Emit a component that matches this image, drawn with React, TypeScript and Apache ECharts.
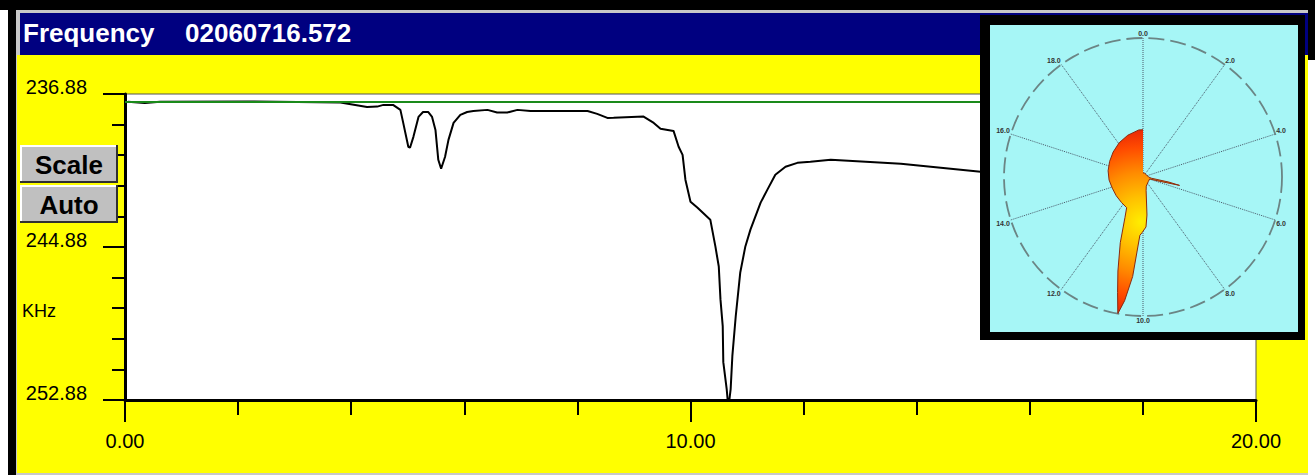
import React, { useEffect, useRef } from "react";
import * as echarts from "echarts";

const Y_MIN = 236.88;
const Y_MAX = 252.88;
const X_MIN = 0;
const X_MAX = 20;

const titleLabel = "Frequency";
const titleValue = "02060716.572";
const unitLabel = "KHz";
const buttonLabels = ["Scale", "Auto"];

// main trace: frequency offset (KHz) vs level
const freqX = [0.05, 0.35, 0.62, 2.21, 3.81, 4.28, 4.46, 4.57, 4.74, 4.87, 4.92, 5.01, 5.04, 5.1, 5.19, 5.27, 5.36, 5.43, 5.49, 5.54, 5.59, 5.66, 5.72, 5.81, 5.93, 6.05, 6.16, 6.41, 6.58, 6.76, 6.94, 7.17, 8.18, 8.35, 8.53, 8.64, 9.17, 9.35, 9.47, 9.7, 9.79, 9.86, 9.91, 10.0, 10.12, 10.35, 10.44, 10.5, 10.53, 10.57, 10.58, 10.64, 10.67, 10.71, 10.74, 10.8, 10.88, 10.97, 11.06, 11.24, 11.36, 11.5, 11.68, 11.89, 12.12, 12.48, 13.72, 15.13, 17.0, 20.0];
const levelY = [237.28, 237.35, 237.28, 237.27, 237.33, 237.56, 237.54, 237.45, 237.45, 237.71, 238.39, 239.64, 239.69, 239.12, 238.08, 237.82, 237.82, 238.08, 238.76, 240.32, 240.79, 240.16, 239.28, 238.39, 237.97, 237.82, 237.77, 237.71, 237.85, 237.85, 237.71, 237.77, 237.77, 237.92, 238.13, 238.12, 238.06, 238.39, 238.7, 238.81, 239.64, 240.06, 241.36, 242.51, 242.82, 243.45, 244.85, 245.9, 247.62, 249.02, 250.9, 252.31, 253.3, 252.31, 250.59, 248.5, 246.21, 244.85, 243.97, 242.56, 241.88, 241.1, 240.68, 240.48, 240.42, 240.32, 240.53, 240.94, 241.4, 242.0];
const referenceLevel = 237.28;

// polar inset
const polarAngle = [0, 1.1, 3.3, 5.0, 5.45, 5.62, 5.72, 5.8, 5.9, 7.2, 8.9, 9.28, 9.67, 9.81, 10.05, 10.17, 10.33, 10.47, 10.58, 10.69, 10.83, 11.06, 11.33, 11.56, 12.22, 13.06, 13.89, 14.72, 15.56, 16.39, 17.22, 18.06, 18.89, 19.72, 20.0];
const polarRadius = [0.03, 0.03, 0.03, 0.04, 0.06, 0.19, 0.27, 0.12, 0.05, 0.05, 0.07, 0.1, 0.275, 0.36, 0.4, 0.42, 0.72, 0.9, 1.0, 0.85, 0.7, 0.5, 0.32, 0.25, 0.24, 0.235, 0.235, 0.245, 0.255, 0.265, 0.28, 0.3, 0.32, 0.34, 0.34];

const FONT = '"Liberation Sans", Arial, sans-serif';

function button(x: number, y: number, w: number, h: number, label: string) {
  return [
    { type: "rect", z: 30, shape: { x, y, width: w, height: h }, style: { fill: "#c0c0c0" } },
    { type: "polyline", z: 31, shape: { points: [[x + 1, y + h - 1], [x + 1, y + 1], [x + w - 1, y + 1]] }, style: { stroke: "#ffffff", lineWidth: 2, fill: null } },
    { type: "polyline", z: 31, shape: { points: [[x, y + h - 1], [x + w - 1, y + h - 1], [x + w - 1, y]] }, style: { stroke: "#303030", lineWidth: 2, fill: null } },
    { type: "text", z: 32, style: { text: label, x: x + w / 2, y: y + h / 2 + 1, fill: "#000", font: `bold 26px ${FONT}`, textAlign: "center", textVerticalAlign: "middle" } },
  ];
}

export default function App() {
  const ref = useRef<HTMLDivElement>(null);
  useEffect(() => {
    const chart = echarts.init(ref.current!, null, { renderer: "svg" });
    const mainData = freqX.map((x, i) => [x, levelY[i] - Y_MIN]);
    const polarData = polarAngle.map((a, i) => [polarRadius[i], a]);

    const graphic: any[] = [
      { type: "rect", z: -10, shape: { x: 0, y: 0, width: 1315, height: 10 }, style: { fill: "#000" } },
      { type: "rect", z: -10, shape: { x: 8, y: 0, width: 8, height: 475 }, style: { fill: "#000" } },
      { type: "rect", z: -10, shape: { x: 1308, y: 0, width: 7, height: 60 }, style: { fill: "#000" } },
      { type: "rect", z: -9, shape: { x: 16, y: 10, width: 1292, height: 465 }, style: { fill: "#c8c8c8" } },
      { type: "rect", z: -8, shape: { x: 20, y: 13, width: 1288, height: 42 }, style: { fill: "#000080" } },
      { type: "rect", z: -8, shape: { x: 17, y: 55, width: 1291, height: 418 }, style: { fill: "#ffff00" } },
      { type: "text", z: 1, style: { text: titleLabel, x: 23, y: 33, fill: "#fff", font: `bold 26px ${FONT}`, textAlign: "left", textVerticalAlign: "middle" } },
      { type: "text", z: 1, style: { text: titleValue, x: 185, y: 33, fill: "#fff", font: `bold 26px ${FONT}`, textAlign: "left", textVerticalAlign: "middle" } },
      { type: "text", z: 1, style: { text: unitLabel, x: 22, y: 311, fill: "#000", font: `18px ${FONT}`, textAlign: "left", textVerticalAlign: "middle" } },
      ...button(20, 145, 98, 38, buttonLabels[0]),
      ...button(20, 185, 98, 38, buttonLabels[1]),
      { type: "rect", z: 40, shape: { x: 980, y: 15, width: 325, height: 325 }, style: { fill: "#000" } },
      { type: "rect", z: 41, shape: { x: 990, y: 25, width: 308, height: 307 }, style: { fill: "#a6f6f6" } },
    ];

    const option: any = {
      animation: false,
      backgroundColor: "#ffffff",
      grid: { left: 125, top: 94, width: 1131, height: 306, show: true, backgroundColor: "#ffffff", borderColor: "#555", borderWidth: 1 },
      xAxis: {
        type: "value", min: X_MIN, max: X_MAX, interval: 10,
        axisLine: { show: true, onZero: false, lineStyle: { color: "#000", width: 3 } },
        axisTick: { show: true, length: 22, lineStyle: { color: "#000", width: 2 } },
        minorTick: { show: true, splitNumber: 5, length: 15, lineStyle: { color: "#000", width: 2 } },
        splitLine: { show: false },
        minorSplitLine: { show: false },
        axisLabel: { margin: 31, color: "#000", fontSize: 20, fontFamily: FONT, showMinLabel: true, showMaxLabel: true, formatter: (v: number) => v.toFixed(2) },
      },
      yAxis: {
        type: "value", min: 0, max: Y_MAX - Y_MIN, interval: 8, inverse: true,
        axisLine: { show: true, onZero: false, lineStyle: { color: "#000", width: 3 } },
        axisTick: { show: true, length: 22, lineStyle: { color: "#000", width: 2 } },
        minorTick: { show: true, splitNumber: 5, length: 13, lineStyle: { color: "#000", width: 2 } },
        splitLine: { show: false },
        minorSplitLine: { show: false },
        axisLabel: { margin: 38, align: "right", verticalAlign: "bottom", lineHeight: 14, color: "#000", fontSize: 20, fontFamily: FONT, showMinLabel: true, showMaxLabel: true, formatter: (v: number) => (Y_MIN + v).toFixed(2) },
      },
      polar: { center: [1143, 177], radius: 139 },
      angleAxis: {
        type: "value", min: 0, max: 20, interval: 2, startAngle: 90, clockwise: true, z: 45,
        axisLine: { show: true, lineStyle: { color: "#6b8585", width: 1.8, type: [16, 6] } },
        axisTick: { show: false },
        splitLine: { show: true, lineStyle: { color: "#4a5a6a", width: 1, type: "dotted" } },
        axisLabel: { margin: 1, fontSize: 7, fontWeight: "bold", color: "#333", fontFamily: FONT, formatter: (v: number) => (v >= 20 ? "" : v.toFixed(1)) },
      },
      radiusAxis: { type: "value", min: 0, max: 1, show: false, z: 45 },
      series: [
        {
          type: "line", data: mainData, symbol: "none", showSymbol: false, z: 2, clip: true,
          lineStyle: { color: "#000", width: 2 },
          markLine: {
            silent: true, symbol: "none", label: { show: false },
            lineStyle: { color: "#1a8a1a", width: 2, type: "solid" },
            data: [{ yAxis: referenceLevel - Y_MIN }],
          },
        },
        {
          type: "line", coordinateSystem: "polar", data: polarData, symbol: "none", showSymbol: false, z: 50,
          lineStyle: { color: "#8a2a10", width: 1 },
          areaStyle: {
            opacity: 1,
            color: new echarts.graphic.RadialGradient(1141, 222, 100, [
              { offset: 0, color: "#ffee00" },
              { offset: 0.25, color: "#ffc000" },
              { offset: 0.5, color: "#ff8a00" },
              { offset: 0.75, color: "#ff4a00" },
              { offset: 1, color: "#e01a08" },
            ], true),
          },
        },
      ],
      graphic,
    };
    chart.setOption(option);
    return () => chart.dispose();
  }, []);
  return <div ref={ref} style={{ position: "fixed", left: 0, top: 0, width: 1315, height: 475 }} />;
}
